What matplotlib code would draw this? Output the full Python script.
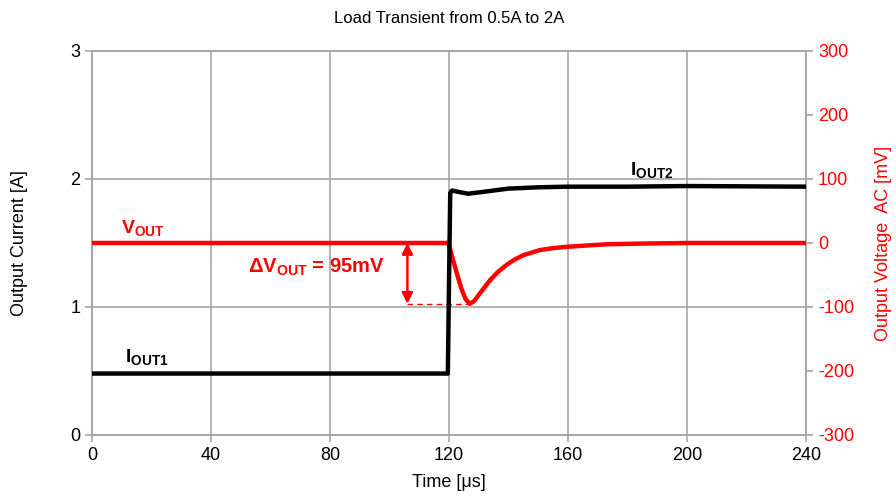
import matplotlib

matplotlib.use("Agg")
import matplotlib.pyplot as plt

plt.rcParams["font.family"] = ["Liberation Sans", "DejaVu Sans"]
plt.rcParams["mathtext.fontset"] = "custom"
plt.rcParams["mathtext.rm"] = "Liberation Sans:bold"
plt.rcParams["mathtext.default"] = "rm"
plt.rcParams["axes.unicode_minus"] = False

GRID = "#a6a6a6"

# output current trace, time in us / current in A
t_iout = [0, 119.6, 120.0, 120.4, 121.0, 123.0, 126.4, 130, 135, 140, 150, 160, 180, 200, 240]
i_out = [0.48, 0.48, 1.20, 1.89, 1.91, 1.90, 1.885, 1.895, 1.91, 1.925, 1.935, 1.94, 1.94, 1.945, 1.94]

# output voltage AC trace, time in us / voltage in mV
t_vout = [0, 40, 80, 119.8, 121.2, 122.6, 124.2, 125.6, 127.0, 128.4, 130.5, 133.8, 136.5,
          139.4, 142.0, 145.0, 150.6, 155.0, 159.6, 166.0, 173.0, 184.0, 200.0, 240.0]
v_out = [0, 0, 0, 0, -24, -47, -72, -88, -95, -91, -78, -58, -45,
         -34, -26, -19, -11, -8, -6, -4, -2, -1, 0, 0]

delta_v = 95  # mV
t_marker = 106
t_dip = 127


def main() -> int:
    fig = plt.figure(figsize=(8.96, 4.99), dpi=100)
    ax = fig.add_axes([0.1027, 0.1283, 0.7969, 0.7695])
    ax2 = ax.twinx()

    ax.set_xlim(0, 240)
    ax.set_ylim(0, 3)
    ax.set_xticks(range(0, 241, 40))
    ax.set_yticks([0, 1, 2, 3])
    ax.grid(True, color=GRID, lw=1.2)
    ax.set_axisbelow(True)
    for sp in ax.spines.values():
        sp.set_color(GRID)
        sp.set_linewidth(1.2)
    for sp in ax2.spines.values():
        sp.set_color(GRID)
        sp.set_linewidth(1.2)
    ax.tick_params(colors=GRID, labelcolor="black", labelsize=13, length=5, width=1.2)

    ax2.set_ylim(-300, 300)
    ax2.set_yticks(range(-300, 301, 100))
    ax2.tick_params(colors=GRID, labelcolor="red", labelsize=13, length=5, width=1.2)

    ax2.plot(t_vout, v_out, color="red", lw=3.2, solid_joinstyle="round", zorder=3)
    ax2.plot(t_iout, [v * 200 - 300 for v in i_out], color="black", lw=3.2,
             solid_joinstyle="round", zorder=4)

    # deviation marker
    ax2.plot([t_marker, t_dip], [-delta_v, -delta_v], color="red", lw=1, ls=(0, (4, 3)))
    ax2.annotate("", xy=(t_marker, -delta_v), xytext=(t_marker, 0),
                 arrowprops=dict(arrowstyle="<|-|>", color="red", lw=1.8, mutation_scale=16,
                                 shrinkA=0, shrinkB=0))
    ax2.text(98.5, -38, f"ΔV$_{{OUT}}$ = {delta_v}mV", color="red", fontsize=14.5,
             fontweight="bold", ha="right", va="center")

    ax.text(17, 1.62, "V$_{OUT}$", color="red", fontsize=14, fontweight="bold",
            ha="center", va="center")
    ax.text(18.5, 0.61, "I$_{OUT1}$", color="black", fontsize=14, fontweight="bold",
            ha="center", va="center")
    ax.text(188, 2.07, "I$_{OUT2}$", color="black", fontsize=14, fontweight="bold",
            ha="center", va="center")

    ax.set_xlabel("Time [μs]", fontsize=13, labelpad=7)
    ax.set_ylabel("Output Current [A]", fontsize=13, labelpad=30)
    ax2.set_ylabel("Output Voltage  AC [mV]", fontsize=13, color="red", labelpad=15)
    ax.set_title("Load Transient from 0.5A to 2A", fontsize=12, pad=20)

    fig.savefig("out.png", dpi=100)
    plt.close(fig)
    return 0


if __name__ == "__main__":
    raise SystemExit(main())
